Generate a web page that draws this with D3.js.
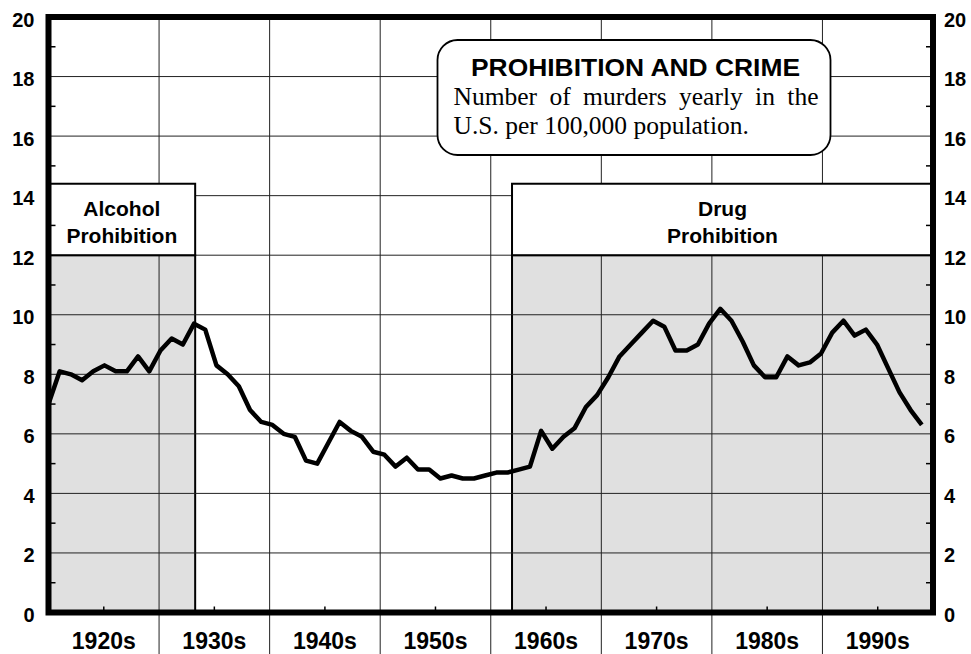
<!DOCTYPE html>
<html>
<head>
<meta charset="utf-8">
<script src="https://cdn.jsdelivr.net/npm/d3@7"></script>
<style>
  body { margin: 0; background: #fff; }
  svg { display: block; }
</style>
</head>
<body>
<div id="chart"></div>
<script>
var years = [1920, 1921, 1922, 1923, 1924, 1925, 1926, 1927, 1928, 1929,
  1930, 1931, 1932, 1933, 1934, 1935, 1936, 1937, 1938, 1939,
  1940, 1941, 1942, 1943, 1944, 1945, 1946, 1947, 1948, 1949,
  1950, 1951, 1952, 1953, 1954, 1955, 1956, 1957, 1958, 1959,
  1960, 1961, 1962, 1963, 1964, 1965, 1966, 1967, 1968, 1969,
  1970, 1971, 1972, 1973, 1974, 1975, 1976, 1977, 1978, 1979,
  1980, 1981, 1982, 1983, 1984, 1985, 1986, 1987, 1988, 1989,
  1990, 1991, 1992, 1993, 1994, 1995, 1996, 1997, 1998];
var murderRate = [7.0, 8.1, 8.0, 7.8, 8.1, 8.3, 8.1, 8.1, 8.6, 8.1,
  8.8, 9.2, 9.0, 9.7, 9.5, 8.3, 8.0, 7.6, 6.8, 6.4,
  6.3, 6.0, 5.9, 5.1, 5.0, 5.7, 6.4, 6.1, 5.9, 5.4,
  5.3, 4.9, 5.2, 4.8, 4.8, 4.5, 4.6, 4.5, 4.5, 4.6,
  4.7, 4.7, 4.8, 4.9, 6.1, 5.5, 5.9, 6.2, 6.9, 7.3,
  7.9, 8.6, 9.0, 9.4, 9.8, 9.6, 8.8, 8.8, 9.0, 9.7,
  10.2, 9.8, 9.1, 8.3, 7.9, 7.9, 8.6, 8.3, 8.4, 8.7,
  9.4, 9.8, 9.3, 9.5, 9.0, 8.2, 7.4, 6.8, 6.3];
var decades = ["1920s", "1930s", "1940s", "1950s", "1960s", "1970s", "1980s", "1990s"];
var yTicks = [0, 2, 4, 6, 8, 10, 12, 14, 16, 18, 20];
var periodNames = [["Alcohol", "Prohibition"], ["Drug", "Prohibition"]];
var periodStart = [1920, 1961.4];
var periodEnd = [1933.1, 1999];
var titleText = "PROHIBITION AND CRIME";
var subtitleLines = ["Number of murders yearly in the", "U.S. per 100,000 population."];

var width = 971; //page size
var height = 654;
var plotLeft = 48.5, plotRight = 933, plotTop = 17, plotBottom = 612.5; //plot frame
var shadeTop = 12; //grey shading ends here, label boxes sit above it
var labelTop = 14.4;
var sans = "'Liberation Sans', Arial, Helvetica, sans-serif";
var serif = "'Liberation Serif', 'Times New Roman', Times, serif";

var x = d3.scaleLinear().domain([1920, 1999]).range([plotLeft, plotRight]); //year scale for the data
var xBand = d3.scaleBand().domain(decades).range([plotLeft, plotRight]); //decade bands for labels and grid
var y = d3.scaleLinear().domain([0, 20]).range([plotBottom, plotTop]);

var svg = d3.select("#chart")
  .append("svg")
  .attr("width", width)
  .attr("height", height);

// grey prohibition periods
svg.selectAll(".shade")
  .data(periodStart)
  .enter()
  .append("rect")
  .attr("class", "shade")
  .attr("x", function(d) { return x(d); })
  .attr("y", y(shadeTop))
  .attr("width", function(d, i) { return x(periodEnd[i]) - x(d); })
  .attr("height", y(0) - y(shadeTop))
  .attr("fill", "#e0e0e0")
  .attr("stroke", "#000")
  .attr("stroke-width", 2);

// horizontal grid
svg.selectAll(".hgrid")
  .data(yTicks.filter(function(d) { return d > 0 && d < 20; }))
  .enter()
  .append("line")
  .attr("class", "hgrid")
  .attr("x1", plotLeft).attr("x2", plotRight)
  .attr("y1", function(d) { return y(d); })
  .attr("y2", function(d) { return y(d); })
  .attr("stroke", "#222")
  .attr("stroke-width", 1);

// vertical grid between decades, running down between the labels
svg.selectAll(".vgrid")
  .data(decades.slice(1))
  .enter()
  .append("line")
  .attr("class", "vgrid")
  .attr("x1", function(d) { return xBand(d); })
  .attr("x2", function(d) { return xBand(d); })
  .attr("y1", plotTop)
  .attr("y2", height)
  .attr("stroke", "#222")
  .attr("stroke-width", 1);

// label boxes above the shading
var period = svg.selectAll(".period")
  .data(periodNames)
  .enter()
  .append("g")
  .attr("class", "period");

period.append("rect")
  .attr("x", function(d, i) { return x(periodStart[i]); })
  .attr("y", y(labelTop))
  .attr("width", function(d, i) { return x(periodEnd[i]) - x(periodStart[i]); })
  .attr("height", y(shadeTop) - y(labelTop))
  .attr("fill", "#fff")
  .attr("stroke", "#000")
  .attr("stroke-width", 2);

period.each(function(d, i) {
  var cx = (x(periodStart[i]) + x(periodEnd[i])) / 2;
  d3.select(this).selectAll("text")
    .data(d)
    .enter()
    .append("text")
    .attr("x", cx)
    .attr("y", function(t, j) { return 216 + j * 27; })
    .attr("text-anchor", "middle")
    .style("font-family", sans)
    .style("font-weight", "bold")
    .style("font-size", "21px")
    .text(function(t) { return t; });
});

// title box
var title = svg.append("g");
title.append("rect")
  .attr("x", 437.5).attr("y", 40)
  .attr("width", 393).attr("height", 115)
  .attr("rx", 20).attr("ry", 20)
  .attr("fill", "#fff")
  .attr("stroke", "#000")
  .attr("stroke-width", 1.8);

title.append("text")
  .attr("x", 471).attr("y", 76)
  .attr("textLength", 329)
  .attr("lengthAdjust", "spacingAndGlyphs")
  .style("font-family", sans)
  .style("font-weight", "bold")
  .style("font-size", "24px")
  .text(titleText);

var sub = title.selectAll(".sub")
  .data(subtitleLines)
  .enter()
  .append("text")
  .attr("class", "sub")
  .attr("x", 453.5)
  .attr("y", function(d, i) { return 105 + i * 29; })
  .style("font-family", serif)
  .style("font-size", "25.5px")
  .text(function(d) { return d; });

// justify the first subtitle line by widening the word gaps
sub.filter(function(d, i) { return i == 0; })
  .each(function(d) {
    var gaps = d.split(" ").length - 1;
    var extra = (365 - this.getComputedTextLength()) / gaps;
    d3.select(this).style("word-spacing", Math.max(0, extra) + "px");
  });

// murder rate line
var line = d3.line()
  .x(function(d, i) { return x(years[i]); })
  .y(function(d) { return y(d); });

svg.append("path")
  .datum(murderRate)
  .attr("d", line)
  .attr("fill", "none")
  .attr("stroke", "#000")
  .attr("stroke-width", 4.5)
  .attr("stroke-linejoin", "round");

// heavy frame
svg.append("rect")
  .attr("x", plotLeft).attr("y", plotTop)
  .attr("width", plotRight - plotLeft).attr("height", plotBottom - plotTop)
  .attr("fill", "none")
  .attr("stroke", "#000")
  .attr("stroke-width", 6);

// small inner ticks: odd values on both sides, mid decade at the bottom
var minorY = yTicks.slice(1).map(function(d) { return d - 1; });
svg.selectAll(".ltick")
  .data(minorY)
  .enter()
  .append("line")
  .attr("x1", plotLeft).attr("x2", plotLeft + 7)
  .attr("y1", function(d) { return y(d); })
  .attr("y2", function(d) { return y(d); })
  .attr("stroke", "#000").attr("stroke-width", 1.5);
svg.selectAll(".rtick")
  .data(minorY)
  .enter()
  .append("line")
  .attr("x1", plotRight).attr("x2", plotRight - 7)
  .attr("y1", function(d) { return y(d); })
  .attr("y2", function(d) { return y(d); })
  .attr("stroke", "#000").attr("stroke-width", 1.5);
svg.selectAll(".btick")
  .data(decades)
  .enter()
  .append("line")
  .attr("x1", function(d) { return xBand(d) + xBand.bandwidth() / 2; })
  .attr("x2", function(d) { return xBand(d) + xBand.bandwidth() / 2; })
  .attr("y1", plotBottom).attr("y2", plotBottom - 6)
  .attr("stroke", "#000").attr("stroke-width", 1.5);

// axis labels
var yLeft = svg.append("g")
  .attr("transform", "translate(" + plotLeft + ",0)")
  .call(d3.axisLeft(y).tickValues(yTicks).tickSize(0).tickPadding(14));
var yRight = svg.append("g")
  .attr("transform", "translate(" + plotRight + ",0)")
  .call(d3.axisRight(y).tickValues(yTicks).tickSize(0).tickPadding(11));
[yLeft, yRight].forEach(function(g) {
  g.select(".domain").remove();
  g.selectAll("text")
    .attr("dy", "0.45em")
    .attr("fill", "#000")
    .style("font-family", sans)
    .style("font-weight", "bold")
    .style("font-size", "20px");
});

var xAxis = svg.append("g")
  .attr("transform", "translate(0," + plotBottom + ")")
  .call(d3.axisBottom(xBand).tickSize(0).tickPadding(20.5));
xAxis.select(".domain").remove();
xAxis.selectAll("text")
  .attr("fill", "#000")
  .style("font-family", sans)
  .style("font-weight", "bold")
  .style("font-size", "23px");
</script>
</body>
</html>
